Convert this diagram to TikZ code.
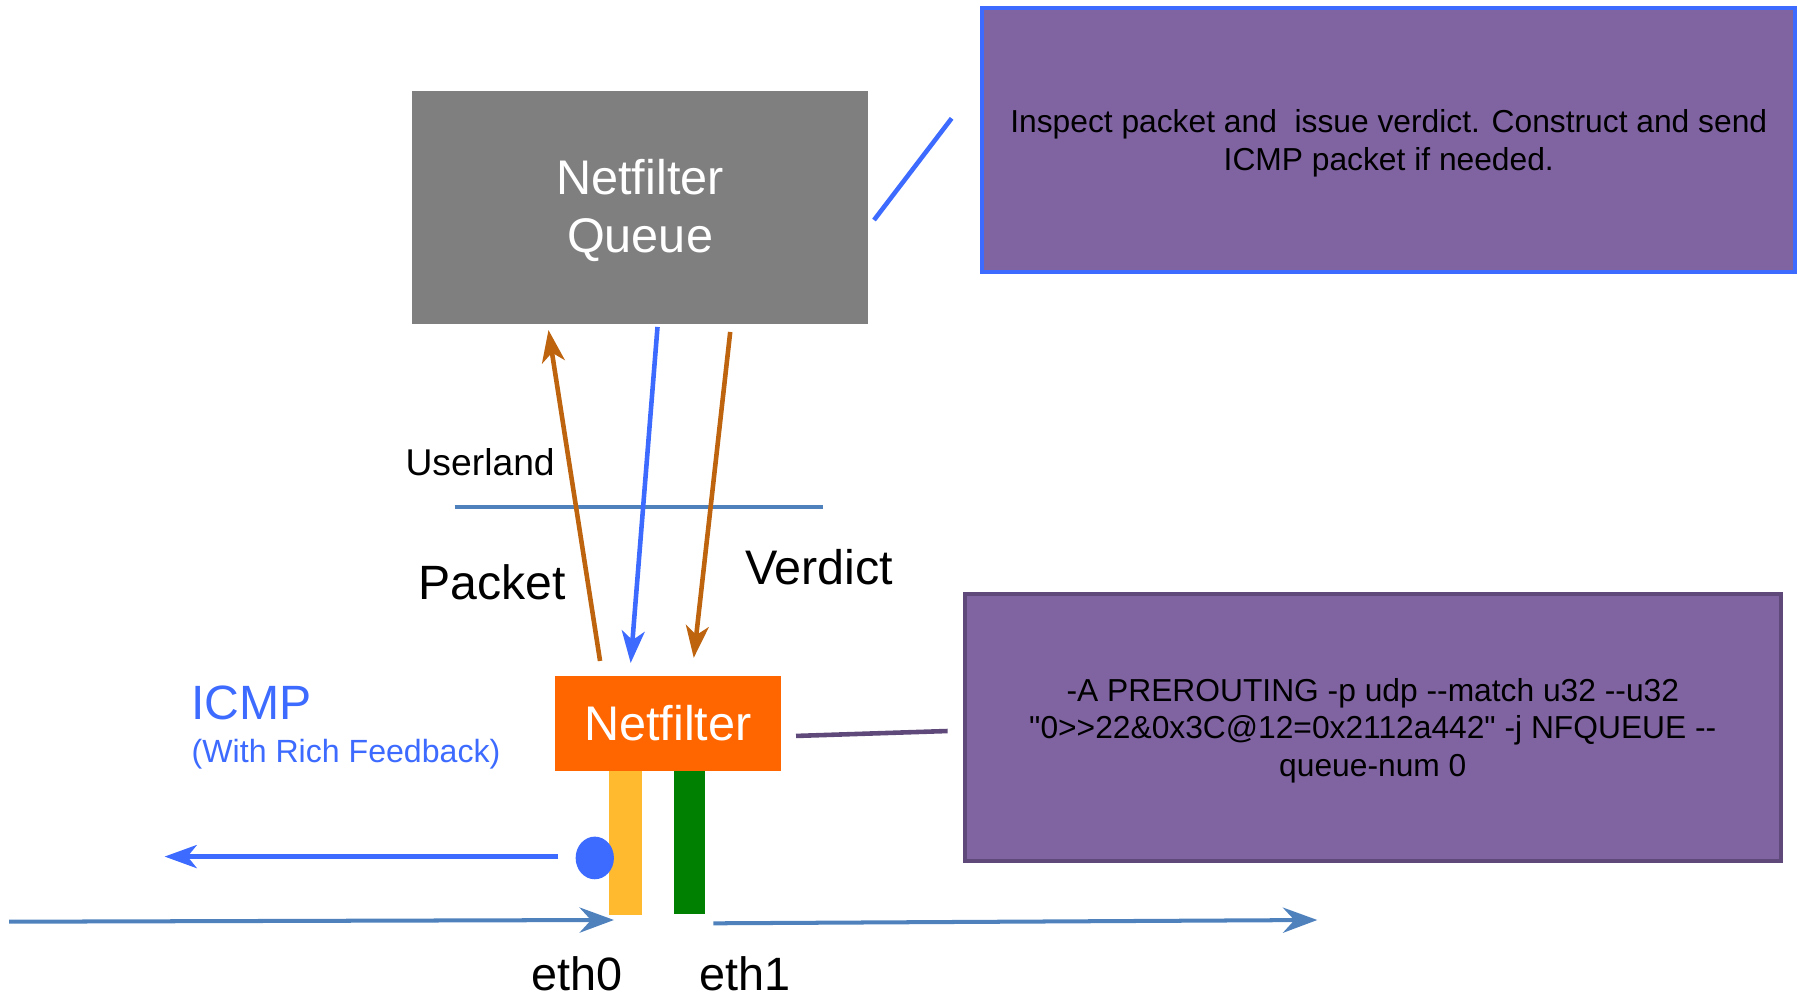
\documentclass[tikz,border=0pt]{standalone}
\usepackage{fontspec}
\setmainfont{Liberation Sans}
\newfontfamily\rawfont{Liberation Sans}[Ligatures=TeXOff]
\usetikzlibrary{arrows.meta,shapes.geometric}
\definecolor{cblue}{RGB}{61,107,255}
\definecolor{cbrown}{RGB}{190,100,15}
\definecolor{csteel}{RGB}{79,129,189}
\definecolor{cpurple}{RGB}{128,100,162}
\definecolor{cdpurple}{RGB}{95,73,122}
\definecolor{cgray}{RGB}{127,127,127}
\definecolor{corange}{RGB}{255,102,0}
\definecolor{cyellow}{RGB}{255,186,47}
\definecolor{cgreen}{RGB}{0,128,0}
\begin{document}
\begin{tikzpicture}[x=1pt,y=-1pt,
  boxnode/.style={rectangle,inner sep=0pt,align=center},
  notebox/.style={boxnode,fill=cpurple,line width=3.5pt},
  notetext/.style={inner sep=0pt,align=center,font=\rawfont\fontsize{27.7}{32.8}\selectfont},
  bigtext/.style={font=\fontsize{42.4}{51}\selectfont},
  lbl/.style={inner sep=0pt,anchor=base west},
  brownarr/.style={draw=cbrown,line width=4pt,-{Stealth[length=28pt,width=20pt,inset=8pt]}},
  bluearr/.style={draw=cblue,line width=4pt,-{Stealth[length=28pt,width=20pt,inset=8pt]}},
  steelarr/.style={draw=csteel,line width=3.5pt,-{Stealth[length=30pt,width=22pt,inset=10pt]}},
  linkline/.style={line width=4pt}]
\useasboundingbox (0,0) rectangle (1568,869.5);

% boxes
\node[boxnode,fill=cgray,minimum width=397.6pt,minimum height=203.1pt] (queue) at (558.2,180.75) {};
\node[boxnode,text=white,bigtext,inner sep=0pt] (queuetext) at (558.2,183.5) {Netfilter\\Queue};
\node[notebox,draw=cblue,minimum width=708.8pt,minimum height=229.6pt] (note1) at (1211.1,122.1) {};
\node[notetext] (note1text) at (1211.1,124.8)
  {Inspect packet and\ \ issue verdict. Construct and send\\ICMP packet if needed.};
\node[notebox,draw=cdpurple,minimum width=711.8pt,minimum height=232.9pt] (note2) at (1197.5,634.5) {};
\node[notetext] (note2text) at (1197.2,637)
  {-A PREROUTING -p udp -{}-match u32 -{}-u32\\"0>{}>22\&0x3C@12=0x2112a442" -j NFQUEUE -{}-\\queue-num 0};
\node[boxnode,fill=cyellow,minimum width=28.9pt,minimum height=126pt] (eth0bar) at (545.85,735) {};
\node[boxnode,fill=cgreen,minimum width=26.8pt,minimum height=124.8pt] (eth1bar) at (601.6,734.4) {};
\node[boxnode,fill=corange,text=white,bigtext,minimum width=196.5pt,minimum height=82.5pt]
  (nf) at (582.5,630.75) {Netfilter};
\node[ellipse,fill=cblue,inner sep=0pt,minimum width=33.4pt,minimum height=37.2pt] (dot) at (518.7,748.2) {};

% labels
\node[lbl,font=\fontsize{32.5}{36}\selectfont] (userland) at (353.5,414.3) {Userland};
\node[lbl,font=\fontsize{42}{46}\selectfont] (packet) at (364.5,523) {Packet};
\node[lbl,font=\fontsize{42.3}{46}\selectfont] (verdict) at (649.5,509.3) {Verdict};
\node[lbl,text=cblue,font=\fontsize{42}{46}\selectfont] (icmp) at (166.5,627.3) {ICMP};
\node[lbl,text=cblue,font=\fontsize{28}{32}\selectfont] (rich) at (167,665.1) {(With Rich Feedback)};
\node[lbl,font=\fontsize{40.8}{46}\selectfont] (eth0) at (463,864) {eth0};
\node[lbl,font=\fontsize{40.8}{46}\selectfont] (eth1) at (610,864) {eth1};

% coordinates
\coordinate (pkA) at (523.3,576.4);
\coordinate (pkB) at (478.3,287.8);
\coordinate (blA) at (573.4,285.1);
\coordinate (blB) at (550,578.2);
\coordinate (vdA) at (636.8,289.5);
\coordinate (vdB) at (605,573.7);
\coordinate (ulA) at (396.5,442);
\coordinate (ulB) at (717.6,442);
\coordinate (q1A) at (762.2,191.9);
\coordinate (q1B) at (829.9,103.2);
\coordinate (n2A) at (694.2,641.8);
\coordinate (n2B) at (826.4,637.5);
\coordinate (icA) at (486.9,747);
\coordinate (icB) at (143.5,747);
\coordinate (inA) at (8,803.8);
\coordinate (inB) at (535.4,802.3);
\coordinate (outA) at (622.2,805.2);
\coordinate (outB) at (1148.8,802.3);

% connectors
\draw[csteel,line width=3.5pt] (ulA) -- (ulB);
\draw[brownarr] (pkA) -- (pkB);
\draw[bluearr] (blA) -- (blB);
\draw[brownarr] (vdA) -- (vdB);
\draw[cblue,linkline] (q1A) -- (q1B);
\draw[cdpurple,linkline] (n2A) -- (n2B);
\draw[bluearr,line width=4.5pt] (icA) -- (icB);
\draw[steelarr] (inA) -- (inB);
\draw[steelarr] (outA) -- (outB);
\end{tikzpicture}
\end{document}
